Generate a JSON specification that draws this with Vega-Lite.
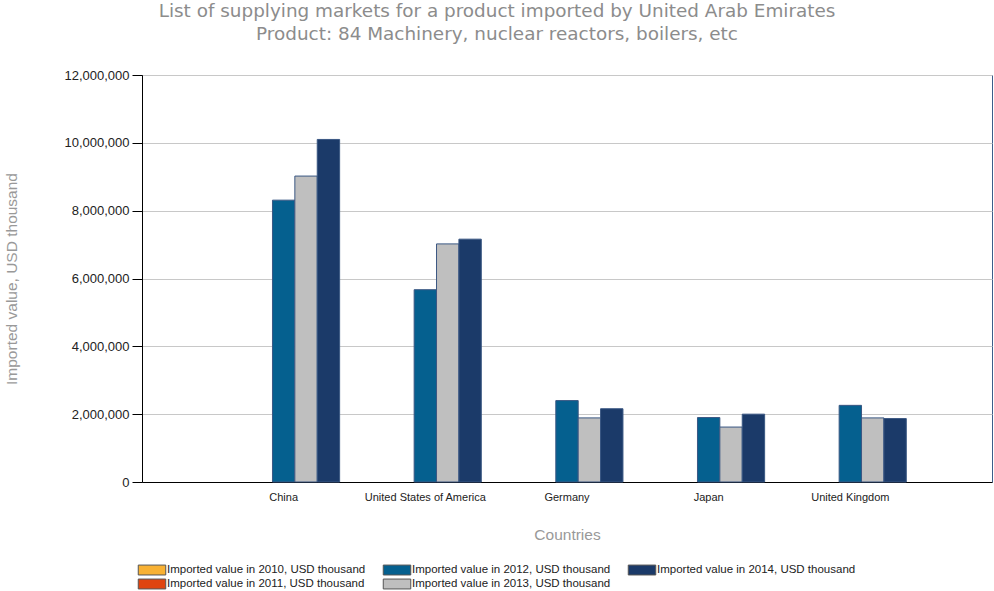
{
  "$schema": "https://vega.github.io/schema/vega-lite/v6.json",
  "width": 850,
  "height": 407,
  "autosize": {"type": "none"},
  "padding": {"left": 142, "top": 75, "right": 2, "bottom": 109},
  "background": "white",
  "title": {
    "text": ["List of supplying markets for a product imported by United Arab Emirates", "Product: 84 Machinery, nuclear reactors, boilers, etc"],
    "anchor": "middle",
    "dx": -70,
    "offset": 26,
    "font": "DejaVu Sans",
    "fontSize": 18.4,
    "fontWeight": "normal",
    "color": "#8c8c8c",
    "lineHeight": 23
  },
  "config": {
    "view": {"stroke": "#3d5d8a", "strokeWidth": 1},
    "font": "Liberation Sans"
  },
  "data": {
    "values": [
      {"country": "China", "year": "2012", "value": 8310000},
      {"country": "China", "year": "2013", "value": 9020000},
      {"country": "China", "year": "2014", "value": 10100000},
      {"country": "United States of America", "year": "2012", "value": 5670000},
      {"country": "United States of America", "year": "2013", "value": 7020000},
      {"country": "United States of America", "year": "2014", "value": 7160000},
      {"country": "Germany", "year": "2012", "value": 2400000},
      {"country": "Germany", "year": "2013", "value": 1890000},
      {"country": "Germany", "year": "2014", "value": 2160000},
      {"country": "Japan", "year": "2012", "value": 1900000},
      {"country": "Japan", "year": "2013", "value": 1620000},
      {"country": "Japan", "year": "2014", "value": 2000000},
      {"country": "United Kingdom", "year": "2012", "value": 2260000},
      {"country": "United Kingdom", "year": "2013", "value": 1890000},
      {"country": "United Kingdom", "year": "2014", "value": 1870000}
    ]
  },
  "mark": {"type": "bar", "stroke": "#3a5783", "strokeWidth": 1},
  "encoding": {
    "x": {
      "field": "country",
      "type": "nominal",
      "sort": ["China", "United States of America", "Germany", "Japan", "United Kingdom"],
      "scale": {"paddingInner": 0.21, "paddingOuter": 0.605},
      "axis": {
        "title": "Countries",
        "titleFont": "Liberation Sans",
        "titleFontSize": 15.5,
        "titleFontWeight": "normal",
        "titleColor": "#999999",
        "titlePadding": 25,
        "labelAngle": 0,
        "labelFontSize": 11,
        "labelColor": "#222222",
        "labelPadding": 9,
        "ticks": false,
        "domainColor": "#000000",
        "grid": false
      }
    },
    "xOffset": {
      "field": "year",
      "type": "nominal",
      "scale": {"domain": ["2010", "2011", "2012", "2013", "2014"], "paddingInner": 0, "paddingOuter": 0}
    },
    "y": {
      "field": "value",
      "type": "quantitative",
      "scale": {"domain": [0, 12000000], "nice": false},
      "axis": {
        "title": "Imported value, USD thousand",
        "titleFont": "Liberation Sans",
        "titleFontSize": 15.5,
        "titleFontWeight": "normal",
        "titleColor": "#999999",
        "titlePadding": 44,
        "values": [0, 2000000, 4000000, 6000000, 8000000, 10000000, 12000000],
        "format": ",d",
        "labelFontSize": 13,
        "labelColor": "#222222",
        "labelPadding": 3,
        "tickColor": "#000000",
        "tickSize": 10,
        "domainColor": "#000000",
        "gridColor": "#c8c8c8",
        "gridWidth": 1
      }
    },
    "color": {
      "field": "year",
      "type": "nominal",
      "scale": {
        "domain": ["2010", "2012", "2014", "2011", "2013"],
        "range": ["#f8b133", "#05608f", "#1b3a69", "#df4410", "#bfbfbf"]
      },
      "legend": {
        "orient": "none",
        "legendX": 4,
        "legendY": 489,
        "direction": "horizontal",
        "columns": 3,
        "title": null,
        "labelExpr": "'Imported value in ' + datum.label + ', USD thousand'",
        "labelFontSize": 11.5,
        "labelColor": "#222222",
        "labelLimit": 260,
        "labelOffset": 9,
        "symbolType": "M-2.5,-0.9H2.5V0.9H-2.5Z",
        "symbolSize": 121,
        "symbolStrokeColor": "#555555",
        "symbolStrokeWidth": 1,
        "columnPadding": 15,
        "rowPadding": 0
      }
    }
  }
}
